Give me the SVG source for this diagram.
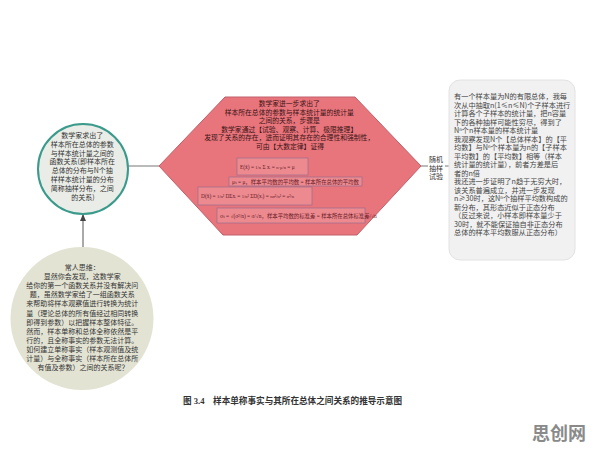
<svg xmlns="http://www.w3.org/2000/svg" width="596" height="456" viewBox="0 0 596 456">
<style>
.t{font-family:"Noto Sans CJK SC","Liberation Sans",sans-serif;fill:#333;}
.c7{font-size:7px;text-anchor:middle;}
.h{font-size:6.8px;text-anchor:middle;fill:#3a1414;}
.b{font-size:7.2px;fill:#444;}
.f{font-size:5.4px;fill:#6a1a26;font-family:"Liberation Serif","Noto Sans CJK SC",serif;}
.fb{fill:#ec8a90;stroke:#8e6a8c;stroke-width:0.6;}
.ln{stroke:#777;stroke-width:1;fill:none;}
.cap{font-family:"Liberation Serif","Noto Sans CJK SC",serif;font-size:8.6px;font-weight:bold;fill:#333;}
.wm{font-family:"Noto Sans CJK SC",sans-serif;font-size:18px;font-weight:bold;fill:#8a8a8a;}
</style>
<defs>
<marker id="ah" markerWidth="8" markerHeight="8" refX="7" refY="4" orient="auto" markerUnits="userSpaceOnUse">
<path d="M0,1 L7,4 L0,7 Z" fill="#444"/>
</marker>
</defs>
<rect width="596" height="456" fill="#fff"/>

<g id="connectors">
<line class="ln" x1="128" y1="166" x2="159" y2="166"/>
<line class="ln" x1="421" y1="166" x2="449" y2="166"/>
<line x1="83" y1="247" x2="83" y2="214" stroke="#555" stroke-width="1" marker-end="url(#ah)"/>
<rect x="428" y="155" width="17" height="27" fill="#fff"/>
<text class="t" font-size="7" text-anchor="middle" fill="#555"><tspan x="436" y="162">随机</tspan><tspan x="436" y="170.5">抽样</tspan><tspan x="436" y="179">试验</tspan></text>
</g>

<g id="node-function">
<circle cx="83" cy="169" r="45" fill="#eaede7" stroke="#3a9a8c" stroke-width="2"/>
<text class="t c7">
<tspan x="83" y="138">数学家求出了</tspan>
<tspan x="83" y="146.8">样本所在总体的参数</tspan>
<tspan x="83" y="155.6">与样本统计量之间的</tspan>
<tspan x="83" y="164.4">函数关系(即样本所在</tspan>
<tspan x="83" y="173.2">总体的分布与N个抽</tspan>
<tspan x="83" y="182">样样本统计量的分布</tspan>
<tspan x="83" y="190.8">简称抽样分布，之间</tspan>
<tspan x="83" y="199.6">的关系)</tspan>
</text>
</g>

<g id="node-common">
<circle cx="82" cy="318.5" r="71.5" fill="#e3e3d4"/>
<text class="t c7" font-size="7.2">
<tspan x="83" y="270">常人思维：</tspan>
<tspan x="83" y="279.1">显然你会发现，这数学家</tspan>
<tspan x="83" y="288.2">给你的第一个函数关系并没有解决问</tspan>
<tspan x="83" y="297.3">题，虽然数学家给了一组函数关系</tspan>
<tspan x="83" y="306.4">来帮助将样本观察值进行转换为统计</tspan>
<tspan x="83" y="315.5">量（理论总体的所有值经过相同转换</tspan>
<tspan x="83" y="324.6">即得到参数）以把握样本整体特征。</tspan>
<tspan x="83" y="333.7">然而，样本单称和总体全称依然是平</tspan>
<tspan x="83" y="342.8">行的，且全称事实的参数无法计算。</tspan>
<tspan x="83" y="351.9">如何建立单称事实（样本观测值及统</tspan>
<tspan x="83" y="361">计量）与全称事实（样本所在总体所</tspan>
<tspan x="83" y="370.1">有值及参数）之间的关系呢？</tspan>
</text>
</g>

<g id="node-hexagon">
<polygon points="225,97 355,97 421,166 357,235 223,235 159,166" fill="#e8747c" stroke="#c0606a" stroke-width="1"/>
<text class="t h">
<tspan x="290" y="106">数学家进一步求出了</tspan>
<tspan x="290" y="114.6">样本所在总体的参数与样本统计量的统计量</tspan>
<tspan x="290" y="123.2">之间的关系，步骤是</tspan>
<tspan x="290" y="131.8">数学家通过【试验、观察、计算、极限推理】</tspan>
<tspan x="290" y="140.4">发现了关系的存在，进而证明其存在的合理性和强制性，</tspan>
<tspan x="290" y="149">可由【大数定律】证得</tspan>
</text>
<rect class="fb" x="237" y="158" width="71" height="17"/>
<text class="f" x="240" y="168.5">E(x̄) = <tspan font-size="4.5">1/n</tspan> Σ xᵢ = <tspan font-size="4.5">n·μ/n</tspan> = μ</text>
<rect class="fb" x="229" y="177" width="133" height="9"/>
<text class="f" x="232" y="183.6" font-size="5">μ<tspan font-size="3.6">x̄</tspan> = μ，样本平均数的平均数 = 样本所在总体的平均数</text>
<rect class="fb" x="198" y="187" width="114" height="18"/>
<text class="f" x="201" y="198">D(x̄) = <tspan font-size="4.5">1/n²</tspan> DΣxᵢ = <tspan font-size="4.5">1/n²</tspan> ΣD(xᵢ) = <tspan font-size="4.5">nσ²/n²</tspan> = <tspan font-size="4.5">σ²/n</tspan></text>
<rect class="fb" x="217" y="208" width="148" height="15"/>
<text class="f" x="220" y="217.5" font-size="5">σ<tspan font-size="3.6">x̄</tspan> = √(σ²/n) = σ/√n，样本平均数的标准差 = 样本所在总体标准差/√n</text>
</g>

<g id="node-box">
<rect x="449" y="80" width="126" height="180" rx="11" fill="#f1f1f1" stroke="#e2e2e2" stroke-width="1"/>
<text class="t b">
<tspan x="454" y="99">有一个样本量为N的有限总体，我每</tspan>
<tspan x="454" y="107.5">次从中抽取n(1≤n≤N)个子样本进行</tspan>
<tspan x="454" y="116">计算各个子样本的统计量，把n容量</tspan>
<tspan x="454" y="124.5">下的各种抽样可能性穷尽，得到了</tspan>
<tspan x="454" y="133">Nⁿ个n样本量的样本统计量</tspan>
<tspan x="454" y="141.5">我观察发现N个【总体样本】的【平</tspan>
<tspan x="454" y="150">均数】与Nⁿ个样本量为n的【子样本</tspan>
<tspan x="454" y="158.5">平均数】的【平均数】相等（样本</tspan>
<tspan x="454" y="167">统计量的统计量），前者方差是后</tspan>
<tspan x="454" y="175.5">者的n倍</tspan>
<tspan x="454" y="184">我还进一步证明了n趋于无穷大时，</tspan>
<tspan x="454" y="192.5">该关系普遍成立，并进一步发现</tspan>
<tspan x="454" y="201">n≥30时，这Nⁿ个抽样平均数构成的</tspan>
<tspan x="454" y="209.5">新分布，其形态近似于正态分布</tspan>
<tspan x="454" y="218">（反过来说，小样本即样本量少于</tspan>
<tspan x="454" y="226.5">30时，就不能保证抽自非正态分布</tspan>
<tspan x="454" y="235">总体的样本平均数服从正态分布）</tspan>
</text>
</g>

<text class="cap" x="183" y="404">图 3.4　样本单称事实与其所在总体之间关系的推导示意图</text>
<text class="wm" x="532" y="440">思创网</text>
</svg>
